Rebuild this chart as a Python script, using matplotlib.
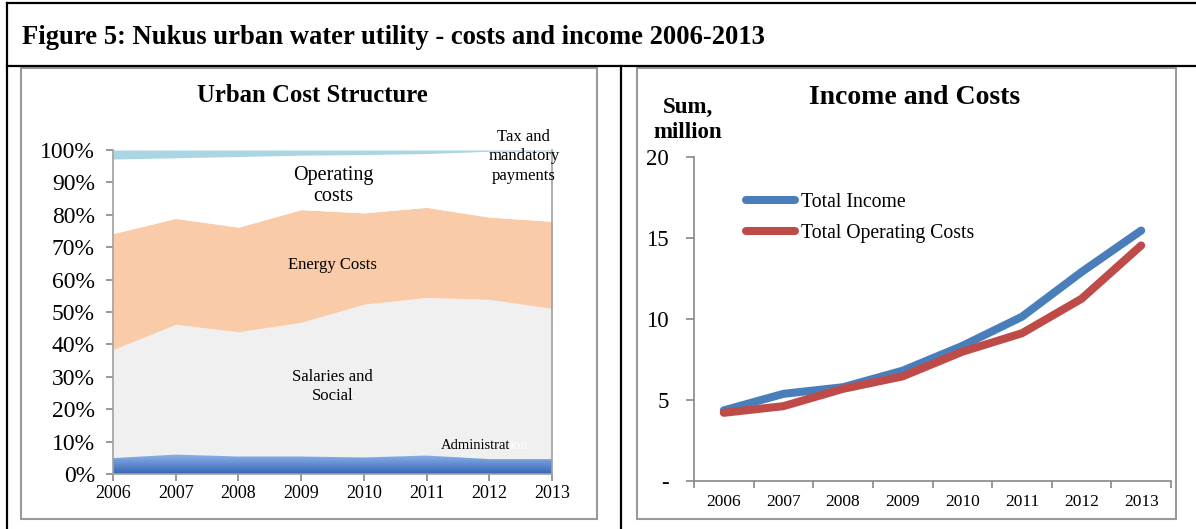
import numpy as np
import matplotlib
matplotlib.use("Agg")
import matplotlib.pyplot as plt
from matplotlib.patches import Rectangle
from matplotlib.lines import Line2D

# ---- data -------------------------------------------------------------
years = [2006, 2007, 2008, 2009, 2010, 2011, 2012, 2013]

# cost structure, shares of total (stacked, bottom to top)
administration = [0.049, 0.060, 0.054, 0.054, 0.051, 0.057, 0.046, 0.046]
salaries_social = [0.335, 0.402, 0.385, 0.414, 0.473, 0.488, 0.493, 0.465]
energy_costs = [0.358, 0.327, 0.323, 0.348, 0.282, 0.278, 0.254, 0.269]
operating_costs = [0.230, 0.187, 0.218, 0.168, 0.180, 0.166, 0.203, 0.217]
tax_payments = [0.028, 0.024, 0.020, 0.016, 0.014, 0.011, 0.004, 0.003]

# income and costs, sum million
total_income = [4.36, 5.38, 5.79, 6.81, 8.34, 10.14, 12.9, 15.46]
total_operating_costs = [4.21, 4.62, 5.69, 6.46, 7.98, 9.12, 11.25, 14.54]

pct_ticks = [0.0, 0.1, 0.2, 0.3, 0.4, 0.5, 0.6, 0.7, 0.8, 0.9, 1.0]
sum_ticks = [0, 5, 10, 15, 20]
sum_tick_labels = ["-", "5", "10", "15", "20"]

# ---- figure -----------------------------------------------------------
W, H = 1196, 529
fig = plt.figure(figsize=(W / 100, H / 100), dpi=100)
SERIF = "Liberation Serif"
GRAY = "#878787"


def fx(px):
    return px / W


def fy(py):
    return 1 - py / H


# outer table lines
for (x0, y0, x1, y1) in [(7, 3, W, 3), (7, 66, W, 66), (7, 3, 7, H), (621, 66, 621, H)]:
    fig.add_artist(Line2D([fx(x0), fx(x1)], [fy(y0), fy(y1)], color="black", lw=1.6,
                          transform=fig.transFigure))

# chart frames
for (x0, y0, x1, y1) in [(21, 68, 597, 519), (637, 68, 1176, 519)]:
    fig.add_artist(Rectangle((fx(x0), fy(y1)), fx(x1 - x0), (y1 - y0) / H, fill=False,
                             edgecolor="#9a9a9a", lw=1.5, transform=fig.transFigure))

fig.text(fx(22), fy(37), "Figure 5: Nukus urban water utility - costs and income 2006-2013",
         family=SERIF, weight="bold", fontsize=19.2, va="center", ha="left")

# ---- left: stacked area ----------------------------------------------
ax1 = fig.add_axes([fx(113), fy(474), fx(552 - 113), (474 - 150) / H])
x = np.array(years, dtype=float)
s1 = np.array(administration)
s2 = s1 + np.array(salaries_social)
s3 = s2 + np.array(energy_costs)
s4 = s3 + np.array(operating_costs)
s5 = s4 + np.array(tax_payments)

admin_poly = ax1.fill_between(x, 0, s1, color="#5C8AD6", lw=0)
# vertical gradient on the administration band
grad = np.linspace(0, 1, 256).reshape(-1, 1)
cmap = matplotlib.colors.LinearSegmentedColormap.from_list("adm", ["#3566B5", "#8FB4EB"])
img = ax1.imshow(grad, extent=[x[0], x[-1], 0, s1.max()], origin="lower", aspect="auto",
                 cmap=cmap, zorder=2)
img.set_clip_path(admin_poly.get_paths()[0], transform=ax1.transData)
admin_poly.set_visible(False)

ax1.fill_between(x, s1, s2, color="#F0F0F0", lw=0)
ax1.fill_between(x, s2, s3, color="#F9CBA9", lw=0)
ax1.fill_between(x, s3, s4, color="white", lw=0)
ax1.fill_between(x, s4, s5, color="#A9D6E2", lw=0)

ax1.set_xlim(years[0], years[-1])
ax1.set_ylim(0, 1)
ax1.set_xticks(years)
ax1.set_xticklabels([str(y) for y in years], family=SERIF, fontsize=13)
ax1.set_yticks(pct_ticks)
ax1.set_yticklabels([f"{int(round(t * 100))}%" for t in pct_ticks], family=SERIF, fontsize=17)
ax1.tick_params(axis="both", color=GRAY, length=5, width=1.2, direction="out")
ax1.tick_params(axis="x", pad=3)
ax1.tick_params(axis="y", pad=8)
for side in ["left", "bottom", "right", "top"]:
    ax1.spines[side].set_color("#a0a0a0")
    ax1.spines[side].set_linewidth(1.2)
ax1.spines["top"].set_visible(False)

ax1.text(2009.52, 0.889, "Operating\ncosts", family=SERIF, fontsize=14.5,
         ha="center", va="center", linespacing=1.2)
ax1.text(2009.5, 0.645, "Energy Costs", family=SERIF, fontsize=12,
         ha="center", va="center")
ax1.text(2009.5, 0.27, "Salaries and\nSocial", family=SERIF, fontsize=12,
         ha="center", va="center", linespacing=1.23)
adm = ax1.text(2011.22, 0.0895, "Administrat", family=SERIF, fontsize=10.5,
               ha="left", va="center")
ax1.annotate("ion", xy=(1, 0), xycoords=adm, va="bottom", ha="left",
             family=SERIF, fontsize=10.5, color="white")
ax1.text(2012.55, 0.98, "Tax and\nmandatory\npayments", family=SERIF, fontsize=12,
         ha="center", va="center", linespacing=1.3, clip_on=False)

fig.text(fx(312), fy(96), "Urban Cost Structure", family=SERIF, weight="bold",
         fontsize=17.8, ha="center", va="center")

# ---- right: income and costs lines -----------------------------------
ax2 = fig.add_axes([fx(694), fy(481), fx(1171 - 694), (481 - 157) / H])
pos = np.arange(len(years))
ax2.plot(pos, total_income, color="#4A7EBB", lw=5.8, solid_capstyle="round",
         solid_joinstyle="round", label="Total Income")
ax2.plot(pos, total_operating_costs, color="#BE4B48", lw=5.8, solid_capstyle="round",
         solid_joinstyle="round", label="Total Operating Costs")
ax2.set_xlim(-0.5, len(years) - 0.5)
ax2.set_ylim(0, 20)
ax2.set_xticks(pos)
ax2.set_xticklabels([str(y) for y in years], family=SERIF, fontsize=12.5)
ax2.set_xticks(np.arange(len(years) + 1) - 0.5, minor=True)
ax2.tick_params(axis="x", which="major", length=0, pad=9)
ax2.tick_params(axis="x", which="minor", length=5, width=1.2, color=GRAY, direction="out")
ax2.set_yticks(sum_ticks)
ax2.set_yticklabels(sum_tick_labels, family=SERIF, fontsize=16.5)
ax2.tick_params(axis="y", length=6, width=1.2, color=GRAY, direction="out", pad=12)
for side in ["left", "bottom"]:
    ax2.spines[side].set_color(GRAY)
    ax2.spines[side].set_linewidth(1.2)
ax2.spines["top"].set_visible(False)
ax2.spines["right"].set_visible(False)

ax2.legend(loc="upper left", bbox_to_anchor=(fx(746), fy(193)), bbox_transform=fig.transFigure,
           frameon=False, prop=dict(family=SERIF, size=14.2), handlelength=2.5,
           handletextpad=0.3, labelspacing=0.6, borderpad=0, borderaxespad=0)

fig.text(fx(915), fy(97), "Income and Costs", family=SERIF, weight="bold",
         fontsize=20, ha="center", va="center")
fig.text(fx(688), fy(120), "Sum,\nmillion", family=SERIF, weight="bold",
         fontsize=16.5, ha="center", va="center", linespacing=1.2)

fig.savefig("out.png", dpi=100)
